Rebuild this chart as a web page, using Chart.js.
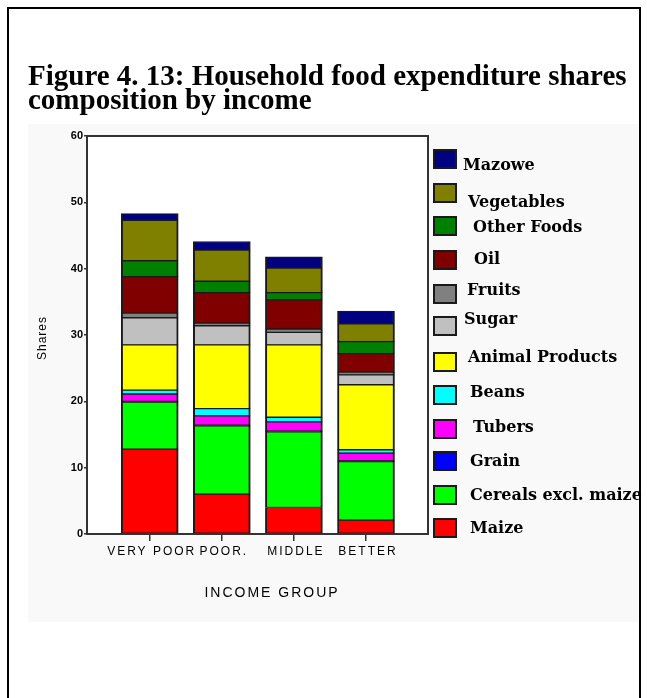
<!DOCTYPE html>
<html>
<head>
<meta charset="utf-8">
<title>Household food expenditure shares composition by income</title>
<script src="https://cdn.jsdelivr.net/npm/chart.js@4.4.1/dist/chart.umd.min.js"></script>
<style>
  html, body { margin: 0; padding: 0; background: #ffffff; }
  canvas { display: block; }
</style>
</head>
<body>
<canvas id="chart" width="647" height="698"></canvas>
<script>
// Income groups along the x axis
const categories = ['VERY POOR', 'POOR.', 'MIDDLE', 'BETTER'];

// Expenditure shares (%) per food group, one value per income group
const maize      = [12.8, 6.0, 4.0, 2.1];
const cereals    = [7.1, 10.3, 11.4, 8.8];
const grain      = [0.1, 0.1, 0.1, 0.1];
const tubers     = [1.1, 1.4, 1.4, 1.2];
const beans      = [0.6, 1.1, 0.7, 0.5];
const animal     = [6.8, 9.6, 10.9, 9.8];
const sugar      = [4.1, 2.9, 1.9, 1.5];
const fruits     = [0.7, 0.4, 0.5, 0.4];
const oil        = [5.5, 4.6, 4.4, 2.8];
const otherFoods = [2.4, 1.7, 1.1, 1.8];
const vegetables = [6.1, 4.7, 3.7, 2.7];
const mazowe     = [1.0, 1.3, 1.7, 1.9];

// Y axis tick values
const yTicks = [0, 10, 20, 30, 40, 50, 60];

// Series in stacking order, bottom first
const series = [
  { label: 'Maize',               values: maize,      color: '#ff0000' },
  { label: 'Cereals excl. maize', values: cereals,    color: '#00ff00' },
  { label: 'Grain',               values: grain,      color: '#0000ff' },
  { label: 'Tubers',              values: tubers,     color: '#ff00ff' },
  { label: 'Beans',               values: beans,      color: '#00ffff' },
  { label: 'Animal Products',     values: animal,     color: '#ffff00' },
  { label: 'Sugar',               values: sugar,      color: '#c0c0c0' },
  { label: 'Fruits',              values: fruits,     color: '#808080' },
  { label: 'Oil',                 values: oil,        color: '#800000' },
  { label: 'Other Foods',         values: otherFoods, color: '#008000' },
  { label: 'Vegetables',          values: vegetables, color: '#808000' },
  { label: 'Mazowe',              values: mazowe,     color: '#000080' }
];

const datasets = series.map(s => ({
  label: s.label,
  data: s.values.map((v, i) => ({ x: i, y: v })),
  backgroundColor: s.color,
  borderColor: '#1a1a1a',
  borderWidth: { top: 1, bottom: 1, left: 2, right: 2 },
  borderSkipped: false,
  barThickness: 57
}));

// Page furniture: frame, title, plot box, axis titles and the legend
const pagePlugin = {
  id: 'page',
  beforeDraw(chart) {
    const ctx = chart.ctx;
    const a = chart.chartArea;
    ctx.save();
    ctx.fillStyle = '#ffffff';
    ctx.fillRect(0, 0, chart.width, chart.height);
    // pasted chart panel
    ctx.fillStyle = '#f9f9f9';
    ctx.fillRect(28, 124, 610, 498);
    ctx.fillStyle = '#ffffff';
    ctx.fillRect(a.left, a.top, a.right - a.left, a.bottom - a.top);
    // page frame
    ctx.strokeStyle = '#000000';
    ctx.lineWidth = 2;
    ctx.beginPath();
    ctx.moveTo(8, 700);
    ctx.lineTo(8, 8);
    ctx.lineTo(640, 8);
    ctx.lineTo(640, 700);
    ctx.stroke();
    // title
    ctx.fillStyle = '#000000';
    ctx.font = 'bold 29px "Liberation Serif", "Times New Roman", serif';
    ctx.textAlign = 'left';
    ctx.textBaseline = 'alphabetic';
    ctx.fillText('Figure 4. 13: Household food expenditure shares', 28, 85);
    ctx.fillText('composition by income', 28, 109);
    ctx.restore();
  },
  afterDraw(chart) {
    const ctx = chart.ctx;
    const a = chart.chartArea;
    const xs = chart.scales.x;
    ctx.save();
    // plot box
    ctx.strokeStyle = '#333333';
    ctx.lineWidth = 2;
    ctx.strokeRect(a.left, a.top, a.right - a.left, a.bottom - a.top);

    // category labels
    ctx.fillStyle = '#000000';
    ctx.font = '12px "Liberation Sans", Arial, sans-serif';
    ctx.letterSpacing = '2px';
    ctx.textAlign = 'center';
    ctx.textBaseline = 'middle';
    categories.forEach((c, i) => {
      ctx.fillText(c, xs.getPixelForValue(i) + 2, a.bottom + 18);
    });

    // axis titles
    ctx.font = '14px "Liberation Sans", Arial, sans-serif';
    ctx.fillText('INCOME GROUP', 272, 593);
    ctx.save();
    ctx.translate(43, 338);
    ctx.rotate(-Math.PI / 2);
    ctx.font = '12px "Liberation Sans", Arial, sans-serif';
    ctx.letterSpacing = '1px';
    ctx.fillText('Shares', 0, 0);
    ctx.restore();
    ctx.letterSpacing = '0px';

    // legend, top entry first
    const boxY  = [159, 193, 226, 260, 294, 326, 362, 395, 429, 461, 495, 528];
    const textX = [463, 468, 473, 474, 467, 464, 468, 470, 473, 470, 470, 470];
    const textY = [166, 203, 228, 260, 291, 320, 358, 393, 428, 462, 496, 529];
    const items = chart.data.datasets.slice().reverse();
    ctx.textAlign = 'left';
    ctx.textBaseline = 'middle';
    ctx.font = 'bold 16px "DejaVu Serif", serif';
    items.forEach((ds, k) => {
      ctx.fillStyle = ds.backgroundColor;
      ctx.fillRect(434, boxY[k] - 9, 22, 18);
      ctx.strokeStyle = '#1a1a1a';
      ctx.lineWidth = 2;
      ctx.strokeRect(434, boxY[k] - 9, 22, 18);
      ctx.fillStyle = '#000000';
      ctx.fillText(ds.label, textX[k], textY[k]);
    });
    ctx.restore();
  }
};

new Chart(document.getElementById('chart'), {
  type: 'bar',
  data: { datasets },
  options: {
    responsive: false,
    animation: false,
    devicePixelRatio: 1,
    layout: { padding: { left: 0, top: 136, right: 219, bottom: 144 } },
    plugins: {
      legend: { display: false },
      tooltip: { enabled: false },
      title: { display: false }
    },
    scales: {
      x: {
        type: 'linear',
        stacked: true,
        offset: false,
        min: -0.87,
        max: 3.86,
        afterBuildTicks(scale) {
          scale.ticks = categories.map((c, i) => ({ value: i }));
        },
        afterFit(scale) { scale.height = 20; },
        ticks: { display: false },
        grid: {
          offset: false,
          drawOnChartArea: false,
          drawTicks: true,
          tickLength: 7,
          color: '#333333',
          lineWidth: 1.5
        },
        border: { display: true, color: '#333333', width: 2 }
      },
      y: {
        stacked: true,
        min: 0,
        max: 60,
        afterBuildTicks(scale) {
          scale.ticks = yTicks.map(v => ({ value: v }));
        },
        afterFit(scale) { scale.width = 87; },
        ticks: {
          color: '#000000',
          padding: 1,
          font: { family: '"Liberation Sans", Arial, sans-serif', size: 11, weight: 'bold' }
        },
        grid: {
          drawOnChartArea: false,
          drawTicks: true,
          tickLength: 3,
          color: '#333333',
          lineWidth: 1.5
        },
        border: { display: true, color: '#333333', width: 2 }
      }
    }
  },
  plugins: [pagePlugin]
});
</script>
</body>
</html>
